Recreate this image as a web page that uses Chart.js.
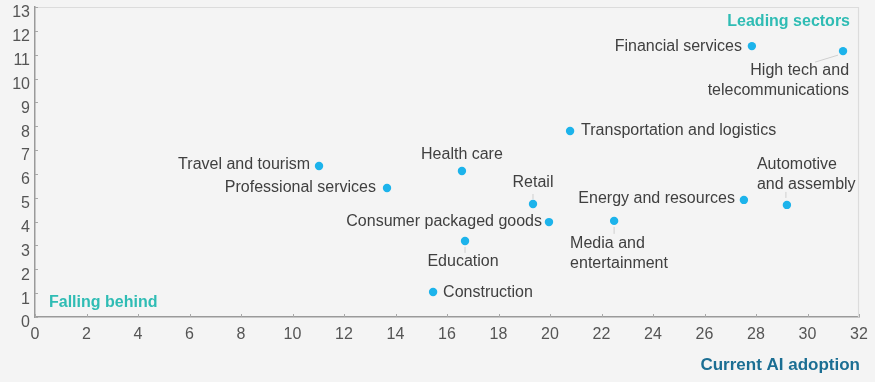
<!DOCTYPE html>
<html>
<head>
<meta charset="utf-8">
<script src="https://cdn.jsdelivr.net/npm/chart.js@4.4.1/dist/chart.umd.min.js"></script>
<style>
  html, body { margin: 0; padding: 0; background: #f4f4f4; }
  #wrap { width: 875px; height: 382px; }
</style>
</head>
<body>
<div id="wrap"><canvas id="myChart" width="875" height="382"></canvas></div>
<script>
// sector names and their scores
const sectors = [
  'Financial services', 'High tech and telecommunications', 'Transportation and logistics',
  'Travel and tourism', 'Health care', 'Professional services', 'Retail',
  'Energy and resources', 'Automotive and assembly', 'Consumer packaged goods',
  'Media and entertainment', 'Education', 'Construction'
];
const adoption = [27.84, 31.38, 20.78, 11.03, 16.58, 13.67, 19.34, 27.53, 29.2, 19.96, 22.49, 16.7, 15.46];
const futureScore = [11.36, 11.15, 7.8, 6.33, 6.12, 5.41, 4.74, 4.91, 4.7, 3.98, 4.03, 3.19, 1.05];

const xTicks = [0, 2, 4, 6, 8, 10, 12, 14, 16, 18, 20, 22, 24, 26, 28, 30, 32];
const yTicks = [0, 1, 2, 3, 4, 5, 6, 7, 8, 9, 10, 11, 12, 13];

// how each sector label sits next to its dot (pixels), plus optional leader line
const labelPlacement = [
  { lines: ['Financial services'], dx: -10, dy: 0, align: 'right' },
  { lines: ['High tech and', 'telecommunications'], dx: 6, dy: 19, align: 'right', lead: [-28, 11, -5, 4] },
  { lines: ['Transportation and logistics'], dx: 11, dy: 0, align: 'left' },
  { lines: ['Travel and tourism'], dx: -9, dy: -1, align: 'right' },
  { lines: ['Health care'], dx: 0, dy: -16, align: 'center' },
  { lines: ['Professional services'], dx: -11, dy: 0, align: 'right' },
  { lines: ['Retail'], dx: 0, dy: -21, align: 'center', lead: [0, -10, 0, -5] },
  { lines: ['Energy and resources'], dx: -9, dy: -1, align: 'right' },
  { lines: ['Automotive', 'and assembly'], dx: -30, dy: -40, align: 'left', lead: [-1, -13, -1, -7] },
  { lines: ['Consumer packaged goods'], dx: -7, dy: 0, align: 'right' },
  { lines: ['Media and', 'entertainment'], dx: -44, dy: 23, align: 'left', lead: [0, 6, 0, 13] },
  { lines: ['Education'], dx: -2, dy: 21, align: 'center', lead: [0, 6, 0, 12] },
  { lines: ['Construction'], dx: 10, dy: 1, align: 'left' }
];

const FONT = '"Liberation Sans", Arial, sans-serif';

// inward tick marks, light top/right frame and free text annotations
const decorations = {
  id: 'decorations',
  afterDraw(chart) {
    const c = chart.ctx;
    const a = chart.chartArea;
    const xs = chart.scales.x, ys = chart.scales.y;
    c.save();
    // light frame on top and right
    c.strokeStyle = '#dcdcdc';
    c.lineWidth = 1.2;
    c.beginPath();
    c.moveTo(a.left, a.top + 0.5);
    c.lineTo(a.right - 0.5, a.top + 0.5);
    c.lineTo(a.right - 0.5, a.bottom);
    c.stroke();
    // ticks pointing inside
    c.strokeStyle = '#a8a8a8';
    c.lineWidth = 1;
    c.beginPath();
    xTicks.forEach(v => {
      const px = Math.round(xs.getPixelForValue(v)) + 0.5;
      c.moveTo(px, a.bottom);
      c.lineTo(px, a.bottom - 3);
    });
    yTicks.forEach(v => {
      const py = Math.round(ys.getPixelForValue(v)) + 0.5;
      c.moveTo(a.left, py);
      c.lineTo(a.left + 3, py);
    });
    c.stroke();

    // sector labels
    const meta = chart.getDatasetMeta(0);
    c.font = '16px ' + FONT;
    c.textBaseline = 'middle';
    meta.data.forEach((pt, i) => {
      const p = labelPlacement[i];
      if (p.lead) {
        c.strokeStyle = '#cfcfcf';
        c.lineWidth = 1;
        c.beginPath();
        c.moveTo(pt.x + p.lead[0], pt.y + p.lead[1]);
        c.lineTo(pt.x + p.lead[2], pt.y + p.lead[3]);
        c.stroke();
      }
      c.fillStyle = '#404040';
      c.textAlign = p.align;
      p.lines.forEach((t, k) => {
        c.fillText(t, pt.x + p.dx, pt.y + p.dy + k * 20);
      });
    });

    // corner notes
    c.fillStyle = '#2fbcb4';
    c.font = 'bold 16px ' + FONT;
    c.textAlign = 'right';
    c.fillText('Leading sectors', 850, 22);
    c.textAlign = 'left';
    c.fillText('Falling behind', 49, 303);
    c.fillStyle = '#1b6e93';
    c.font = 'bold 17px ' + FONT;
    c.textAlign = 'right';
    c.fillText('Current AI adoption', 860, 365);
    c.restore();
  }
};

document.addEventListener('DOMContentLoaded', () => {
  const ctx = document.getElementById('myChart').getContext('2d');

  new Chart(ctx, {
    type: 'scatter',
    data: {
      datasets: [{
        data: adoption.map((x, i) => ({ x: x, y: futureScore[i] })),
        backgroundColor: '#1cb3eb',
        borderWidth: 0,
        pointRadius: 4.2,
        pointHoverRadius: 4.2
      }]
    },
    options: {
      responsive: false,
      animation: false,
      events: [],
      layout: { padding: { top: 7, right: 16, left: 0, bottom: 0 } },
      plugins: { legend: { display: false }, tooltip: { enabled: false } },
      scales: {
        x: {
          type: 'linear',
          min: 0,
          max: 32,
          afterFit: s => { s.height = 65; s.paddingLeft = 0; s.paddingRight = 0; },
          afterBuildTicks: s => { s.ticks = xTicks.map(v => ({ value: v })); },
          grid: { display: false, drawTicks: false },
          border: { color: '#9a9a9a', width: 1.5 },
          ticks: {
            color: '#555',
            font: { family: FONT, size: 16 },
            padding: 8,
            maxRotation: 0,
            autoSkip: false
          }
        },
        y: {
          type: 'linear',
          min: 0,
          max: 13,
          afterFit: s => { s.width = 35; s.paddingTop = 0; s.paddingBottom = 0; },
          afterBuildTicks: s => { s.ticks = yTicks.map(v => ({ value: v })); },
          grid: { display: false, drawTicks: false },
          border: { color: '#9a9a9a', width: 1.5 },
          ticks: {
            color: '#555',
            font: { family: FONT, size: 16 },
            padding: 5,
            labelOffset: 6,
            autoSkip: false
          }
        }
      }
    },
    plugins: [decorations]
  });
});
</script>
</body>
</html>
